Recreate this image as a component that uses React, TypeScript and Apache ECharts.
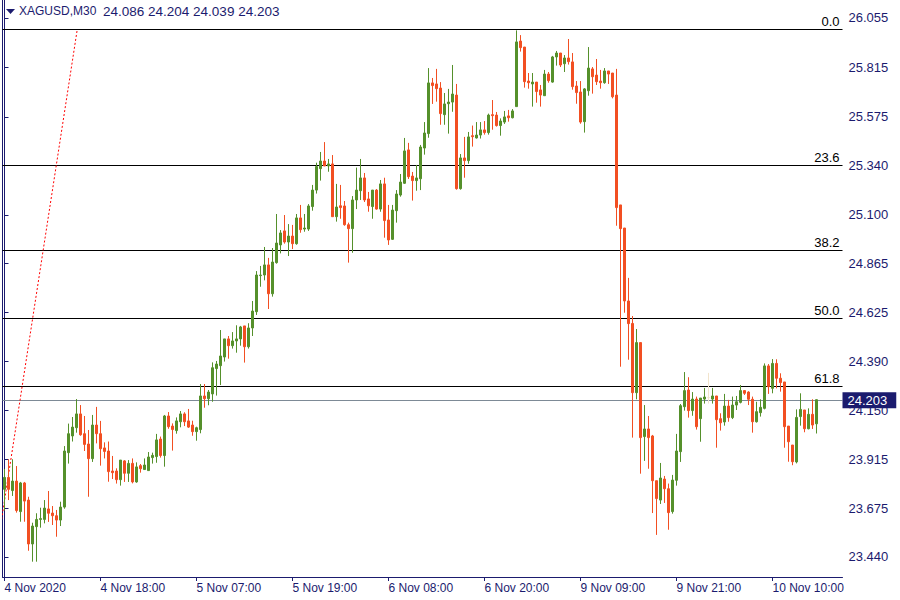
import React, { useEffect, useRef } from "react";
import * as echarts from "echarts";

const symbolName = "XAGUSD,M30";

const opens = [
  23.768, 23.826, 23.762, 23.808, 23.660, 23.799, 23.716, 23.503, 23.587, 23.622,
  23.622, 23.673, 23.653, 23.640, 23.619, 23.682, 23.946, 24.027, 24.067, 24.134,
  24.038, 23.988, 23.917, 24.080, 24.038, 23.969, 23.954, 23.857, 23.857, 23.815,
  23.906, 23.846, 23.894, 23.804, 23.883, 23.864, 23.859, 23.922, 23.927, 24.012,
  23.932, 24.124, 24.075, 24.053, 24.096, 24.134, 24.100, 24.080, 24.048, 24.058,
  24.221, 24.208, 24.231, 24.354, 24.368, 24.410, 24.498, 24.465, 24.488, 24.498,
  24.561, 24.460, 24.551, 24.630, 24.805, 24.808, 24.857, 24.717, 24.868, 24.954,
  25.022, 24.968, 24.997, 24.960, 25.085, 25.031, 25.031, 25.140, 25.220, 25.324,
  25.361, 25.337, 25.347, 25.091, 25.144, 25.143, 25.052, 25.033, 25.172, 25.217,
  25.279, 25.177, 25.140, 25.220, 25.128, 25.250, 25.075, 24.981, 25.120, 25.196,
  25.253, 25.415, 25.288, 25.266, 25.275, 25.424, 25.494, 25.740, 25.735, 25.715,
  25.586, 25.639, 25.647, 25.681, 25.227, 25.376, 25.363, 25.484, 25.473, 25.487,
  25.512, 25.499, 25.586, 25.584, 25.533, 25.550, 25.580, 25.571, 25.625, 25.943,
  25.914, 25.749, 25.735, 25.744, 25.706, 25.678, 25.783, 25.744, 25.866, 25.885,
  25.833, 25.861, 25.842, 25.725, 25.696, 25.552, 25.702, 25.808, 25.778, 25.749,
  25.741, 25.798, 25.788, 25.681, 25.148, 25.036, 24.682, 24.573, 24.237, 24.480,
  24.024, 24.061, 24.027, 23.810, 23.716, 23.818, 23.771, 23.660, 23.812, 23.951,
  24.169, 24.250, 24.150, 24.206, 24.111, 24.206, 24.213, 24.206, 24.221, 24.111,
  24.095, 24.172, 24.116, 24.177, 24.190, 24.247, 24.240, 24.205, 24.096, 24.140,
  24.161, 24.367, 24.258, 24.379, 24.307, 24.289, 24.075, 23.983, 23.901, 24.121,
  24.153, 24.062, 24.132, 24.086,
];

const highs = [
  23.867, 23.914, 23.914, 23.881, 23.804, 23.804, 23.732, 23.606, 23.652, 23.679,
  23.716, 23.760, 23.687, 23.668, 23.708, 23.978, 24.087, 24.119, 24.206, 24.177,
  24.124, 24.056, 24.129, 24.168, 24.100, 23.996, 24.000, 23.930, 23.870, 23.910,
  23.910, 23.910, 23.918, 23.899, 23.891, 23.918, 23.949, 23.946, 24.037, 24.024,
  24.129, 24.143, 24.088, 24.117, 24.148, 24.142, 24.158, 24.101, 24.072, 24.279,
  24.279, 24.250, 24.384, 24.391, 24.541, 24.498, 24.512, 24.531, 24.564, 24.561,
  24.561, 24.574, 24.682, 24.827, 24.852, 24.944, 24.891, 24.939, 25.104, 25.026,
  25.099, 25.055, 25.051, 25.104, 25.148, 25.104, 25.152, 25.245, 25.353, 25.405,
  25.453, 25.371, 25.390, 25.250, 25.245, 25.167, 25.062, 25.191, 25.329, 25.371,
  25.303, 25.211, 25.220, 25.225, 25.269, 25.280, 25.148, 25.148, 25.220, 25.298,
  25.473, 25.449, 25.308, 25.342, 25.439, 25.550, 25.812, 25.764, 25.808, 25.744,
  25.691, 25.711, 25.827, 25.735, 25.395, 25.478, 25.502, 25.533, 25.550, 25.550,
  25.555, 25.591, 25.657, 25.599, 25.568, 25.604, 25.609, 25.613, 25.995, 25.972,
  25.914, 25.788, 25.788, 25.744, 25.730, 25.803, 25.793, 25.871, 25.895, 25.885,
  25.875, 25.953, 25.885, 25.749, 25.749, 25.715, 25.914, 25.817, 25.856, 25.803,
  25.812, 25.798, 25.788, 25.808, 25.148, 25.036, 24.794, 24.609, 24.546, 24.480,
  24.177, 24.124, 24.032, 23.810, 23.896, 23.833, 23.796, 23.838, 24.037, 24.182,
  24.337, 24.312, 24.240, 24.218, 24.211, 24.260, 24.333, 24.260, 24.221, 24.137,
  24.231, 24.202, 24.218, 24.221, 24.274, 24.250, 24.244, 24.218, 24.193, 24.205,
  24.379, 24.376, 24.400, 24.399, 24.331, 24.289, 24.075, 23.983, 24.156, 24.234,
  24.153, 24.161, 24.205, 24.204,
];

const lows = [
  23.665, 23.716, 23.736, 23.655, 23.611, 23.611, 23.470, 23.417, 23.417, 23.582,
  23.603, 23.610, 23.595, 23.538, 23.590, 23.674, 23.893, 24.000, 24.043, 24.028,
  23.954, 23.732, 23.901, 23.991, 23.883, 23.918, 23.805, 23.818, 23.796, 23.786,
  23.804, 23.804, 23.797, 23.800, 23.849, 23.864, 23.859, 23.893, 23.897, 23.922,
  23.878, 24.062, 23.956, 24.038, 24.069, 24.075, 24.066, 24.028, 24.004, 24.040,
  24.164, 24.176, 24.193, 24.223, 24.274, 24.388, 24.402, 24.451, 24.431, 24.465,
  24.383, 24.451, 24.512, 24.614, 24.751, 24.782, 24.643, 24.703, 24.863, 24.913,
  24.960, 24.900, 24.934, 24.955, 25.013, 25.018, 25.022, 25.120, 25.203, 25.266,
  25.337, 25.309, 25.091, 25.067, 25.081, 25.047, 24.868, 24.916, 25.128, 25.172,
  25.162, 25.115, 25.081, 25.125, 25.115, 24.989, 24.954, 24.978, 25.062, 25.188,
  25.250, 25.274, 25.169, 25.217, 25.220, 25.392, 25.474, 25.638, 25.649, 25.537,
  25.537, 25.494, 25.600, 25.222, 25.222, 25.280, 25.348, 25.431, 25.470, 25.470,
  25.489, 25.489, 25.513, 25.528, 25.484, 25.541, 25.552, 25.568, 25.625, 25.892,
  25.717, 25.712, 25.625, 25.644, 25.625, 25.678, 25.741, 25.741, 25.824, 25.817,
  25.793, 25.829, 25.707, 25.639, 25.542, 25.499, 25.678, 25.688, 25.730, 25.712,
  25.736, 25.735, 25.665, 25.047, 24.363, 24.625, 24.397, 24.019, 24.205, 23.844,
  23.906, 23.868, 23.653, 23.547, 23.697, 23.702, 23.572, 23.650, 23.786, 23.901,
  24.150, 24.116, 24.125, 24.058, 23.999, 24.184, 24.184, 24.184, 23.970, 24.053,
  24.077, 24.096, 24.109, 24.153, 24.185, 24.226, 24.177, 24.043, 24.092, 24.121,
  24.156, 24.231, 24.234, 24.258, 24.242, 23.970, 23.902, 23.885, 23.894, 24.077,
  24.045, 24.059, 24.061, 24.039,
];

const closes = [
  23.826, 23.768, 23.808, 23.665, 23.799, 23.711, 23.503, 23.590, 23.622, 23.626,
  23.677, 23.652, 23.640, 23.619, 23.682, 23.954, 24.038, 24.070, 24.134, 24.033,
  23.986, 23.917, 24.080, 24.038, 23.965, 23.952, 23.854, 23.849, 23.815, 23.910,
  23.846, 23.894, 23.804, 23.877, 23.868, 23.886, 23.925, 23.933, 24.008, 23.932,
  24.124, 24.072, 24.058, 24.100, 24.134, 24.096, 24.070, 24.048, 24.067, 24.221,
  24.208, 24.240, 24.358, 24.376, 24.415, 24.498, 24.465, 24.488, 24.498, 24.556,
  24.460, 24.551, 24.633, 24.808, 24.808, 24.857, 24.717, 24.871, 24.963, 25.012,
  24.968, 24.997, 24.960, 25.085, 25.028, 25.036, 25.143, 25.220, 25.334, 25.361,
  25.337, 25.347, 25.091, 25.138, 25.135, 25.052, 25.033, 25.172, 25.220, 25.279,
  25.172, 25.144, 25.220, 25.128, 25.250, 25.072, 24.978, 25.123, 25.201, 25.259,
  25.410, 25.285, 25.266, 25.279, 25.429, 25.497, 25.740, 25.727, 25.712, 25.591,
  25.638, 25.647, 25.686, 25.227, 25.376, 25.363, 25.478, 25.479, 25.487, 25.512,
  25.499, 25.584, 25.581, 25.533, 25.555, 25.575, 25.571, 25.604, 25.939, 25.911,
  25.746, 25.741, 25.744, 25.698, 25.681, 25.783, 25.751, 25.866, 25.885, 25.827,
  25.861, 25.843, 25.722, 25.693, 25.550, 25.711, 25.812, 25.770, 25.746, 25.741,
  25.798, 25.783, 25.673, 25.135, 25.033, 24.682, 24.572, 24.237, 24.480, 24.019,
  24.061, 24.019, 23.810, 23.723, 23.823, 23.771, 23.655, 23.813, 23.954, 24.174,
  24.247, 24.150, 24.206, 24.072, 24.211, 24.216, 24.213, 24.221, 24.106, 24.091,
  24.172, 24.116, 24.177, 24.193, 24.247, 24.234, 24.205, 24.096, 24.145, 24.166,
  24.367, 24.266, 24.379, 24.307, 24.286, 24.072, 23.999, 23.902, 24.117, 24.156,
  24.062, 24.132, 24.080, 24.203,
];

const slotCount = 210;
const labelStep = 24;
const timeLabels = [
  "4 Nov 2020",
  "4 Nov 18:00",
  "5 Nov 07:00",
  "5 Nov 19:00",
  "6 Nov 08:00",
  "6 Nov 20:00",
  "9 Nov 09:00",
  "9 Nov 21:00",
  "10 Nov 10:00",
];

const priceTicks = [
  26.055, 25.815, 25.575, 25.34, 25.1, 24.865, 24.625, 24.39, 24.15, 23.915, 23.675, 23.44,
];
const priceMin = 23.3427;
const priceMax = 26.1423;

const fibHigh = 25.997;
const fibLow = 23.201;
const fibLevels = [0, 23.6, 38.2, 50.0, 61.8];
const fibStartBar = -4.07;
const fibEndBar = 18.17;

const lastPrice = 24.203;

const NAVY = "#1b1b6e";
const UP = "#55902b";
const DOWN = "#f24f22";
const DOJI = "#f2e4cc";
const FONT = "'Liberation Sans', Arial, sans-serif";

export default function App() {
  const ref = useRef<HTMLDivElement>(null);

  useEffect(() => {
    if (!ref.current) return;
    const chart = echarts.init(ref.current, undefined, { renderer: "svg" });

    const categories = opens.map((_, i) => String(i));
    while (categories.length < slotCount) categories.push(String(categories.length));

    const candleData = opens.map((o, i) => [o, closes[i], lows[i], highs[i]]);
    const n = opens.length - 1;
    const quote = `${opens[n].toFixed(3)} ${highs[n].toFixed(3)} ${lows[n].toFixed(3)} ${closes[n].toFixed(3)}`;

    const fibPrice = (lvl: number) => fibHigh - ((fibHigh - fibLow) * lvl) / 100;

    const showLabel = (i: number) => i % labelStep === 0 && i / labelStep < timeLabels.length;

    const option: any = {
      animation: false,
      backgroundColor: "#ffffff",
      textStyle: { fontFamily: FONT },
      title: {
        text: `{s|${symbolName}}  {q|${quote}}`,
        left: 19,
        top: 4,
        padding: 0,
        textStyle: {
          color: NAVY,
          fontSize: 12,
          fontWeight: "normal",
          fontFamily: FONT,
          rich: {
            s: { color: NAVY, fontSize: 12, fontFamily: FONT },
            q: { color: NAVY, fontSize: 13.5, fontFamily: FONT },
          },
        },
      },
      graphic: [
        {
          type: "polygon",
          shape: { points: [[6, 9], [15, 9], [10.5, 14]] },
          style: { fill: NAVY },
        },
      ],
      grid: { left: 2.5, right: 57.5, top: 0, bottom: 23, containLabel: false },
      xAxis: [
        {
          type: "category",
          data: categories,
          boundaryGap: true,
          position: "bottom",
          axisLine: { show: true, lineStyle: { color: NAVY, width: 1 } },
          axisTick: {
            show: true,
            length: 4,
            alignWithLabel: true,
            interval: (i: number) => showLabel(i),
            lineStyle: { color: NAVY },
          },
          axisLabel: {
            interval: (i: number) => showLabel(i),
            formatter: (_v: string, i: number) => timeLabels[i / labelStep] ?? "",
            align: "left",
            margin: 5,
            color: NAVY,
            fontSize: 12,
            fontFamily: FONT,
          },
          splitLine: { show: false },
        },
        { type: "value", min: -0.5, max: slotCount - 0.5, show: false },
      ],
      yAxis: [
        {
          type: "value",
          position: "right",
          min: priceMin,
          max: priceMax,
          axisLine: { show: true, lineStyle: { color: NAVY, width: 1 } },
          axisTick: { show: true, length: 4, customValues: priceTicks, lineStyle: { color: NAVY } },
          axisLabel: {
            customValues: priceTicks,
            formatter: (v: number) => v.toFixed(3),
            color: NAVY,
            margin: 6,
            fontSize: 13,
            fontFamily: FONT,
          },
          splitLine: { show: false },
        },
        {
          type: "value",
          position: "left",
          min: priceMin,
          max: priceMax,
          axisLine: { show: true, lineStyle: { color: NAVY, width: 1 } },
          axisTick: { show: false },
          axisLabel: { show: false },
          splitLine: { show: false },
        },
      ],
      series: [
        {
          type: "line",
          xAxisIndex: 1,
          yAxisIndex: 0,
          data: [
            [fibStartBar, fibLow],
            [fibEndBar, fibHigh],
          ],
          symbol: "none",
          silent: true,
          clip: true,
          z: 1,
          lineStyle: { color: "#ff0000", width: 1, type: [2, 2] },
          markLine: {
            symbol: ["none", "none"],
            silent: true,
            animation: false,
            z: 1,
            data: [
              ...fibLevels.map((lvl) => ({
                yAxis: fibPrice(lvl),
                name: lvl.toFixed(1),
                lineStyle: { color: "#000000", width: 1, type: "solid" },
                label: {
                  show: true,
                  position: "insideEndTop",
                  formatter: "{b}",
                  color: "#000000",
                  fontSize: 13,
                  fontFamily: FONT,
                  distance: [3, 1],
                },
              })),
              {
                yAxis: lastPrice,
                name: "last",
                lineStyle: { color: "#7d8a96", width: 1, type: "solid" },
                label: {
                  show: true,
                  position: "end",
                  formatter: lastPrice.toFixed(3),
                  color: "#ffffff",
                  backgroundColor: NAVY,
                  padding: [2, 9, 1, 5],
                  distance: 0,
                  fontSize: 13,
                  fontFamily: FONT,
                },
              },
            ],
          },
        },
        {
          type: "candlestick",
          xAxisIndex: 0,
          yAxisIndex: 0,
          data: candleData,
          barWidth: 2,
          z: 10,
          silent: true,
          itemStyle: {
            color: UP,
            color0: DOWN,
            borderColor: UP,
            borderColor0: DOWN,
            borderColorDoji: DOJI,
            borderWidth: 1,
          },
        },
      ],
    };

    chart.setOption(option);
    return () => chart.dispose();
  }, []);

  return (
    <div
      ref={ref}
      style={{ position: "fixed", left: 0, top: 0, width: 900, height: 600, background: "#fff" }}
    />
  );
}
